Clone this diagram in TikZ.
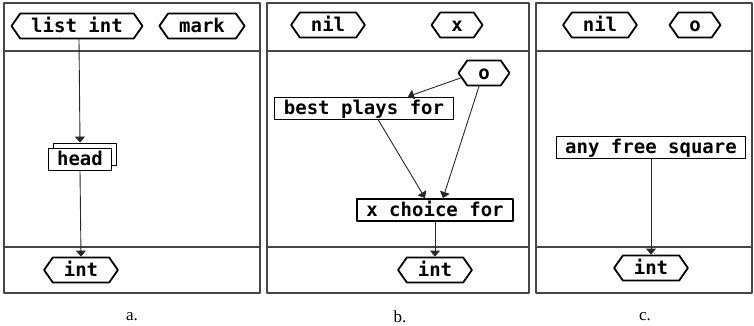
\documentclass[tikz,border=0pt]{standalone}
\usepackage{fontspec}
\setmainfont{Liberation Serif}
\newfontfamily\pixfont{DejaVu Sans Mono}
\usetikzlibrary{arrows.meta}
\usetikzlibrary{calc}
\usetikzlibrary{shapes.symbols}
\usetikzlibrary{shadows}

\begin{document}
\begin{tikzpicture}[x=1pt, y=-1pt, >={Triangle[width=10pt,length=6pt]}, line cap=round, line join=round]

	\definecolor{frameA}{RGB}{70,70,70}
	\definecolor{lineA}{RGB}{40,40,40}

	\tikzset{
		frame/.style={draw=frameA, line width=1.3pt},
		divider/.style={draw=frameA, line width=1.1pt},
		typenode/.style={signal, signal to=west and east, signal pointer angle=110,
			draw=black, line width=1.8pt, fill=white, minimum height=25pt,
			inner xsep=11pt, inner ysep=0pt, font=\pixfont\bfseries\fontsize{19}{20}\selectfont,
			text height=15pt, text depth=2pt},
		opbox/.style={rectangle, draw=black, line width=0.9pt, fill=white, minimum height=22pt,
			inner xsep=9pt, inner ysep=0pt, font=\pixfont\bfseries\fontsize{19}{20}\selectfont,
			text height=15pt, text depth=2pt},
		mainop/.style={opbox, line width=2pt},
		multiop/.style={opbox, copy shadow={shadow xshift=5pt, shadow yshift=5pt, fill=white, draw=black, line width=0.9pt}},
		conn/.style={->, draw=lineA, line width=0.9pt},
		lab/.style={font=\fontsize{17}{19}\selectfont},
	}

	\useasboundingbox (0,0) rectangle (754,326);

	% --- panel frames with header and result strips
	\foreach \xl/\xr in {4/260, 267/529, 536/752} {
		\draw[frame] (\xl,3) rectangle (\xr,293);
		\draw[divider] (\xl,51) -- (\xr,51);
		\draw[divider] (\xl,247) -- (\xr,247);
	}

	% --- a.
	\node[typenode] (listint) at (77,26) {list int};
	\node[typenode] (marka) at (202,26) {mark};
	\node[multiop] (head) at (80,159) {head};
	\node[typenode] (inta) at (81,270) {int};
	\draw[conn] (listint.south -| 79,0) -- ([yshift=5pt]head.north);
	\draw[conn] (head.south) -- (inta.north);
	\node[lab] (capa) at (132,317) {a.};

	% --- b.
	\node[typenode] (nilb) at (328,25) {nil};
	\node[typenode] (xb) at (457,25) {x};
	\node[typenode] (ob) at (484,73) {o};
	\node[opbox] (bestplays) at (364,108) {best plays for};
	\node[mainop] (xchoice) at (435,210) {x choice for};
	\node[typenode] (intb) at (435,270) {int};
	\draw[conn] ($(ob.west)+(3,5)$) -- ([xshift=44pt]bestplays.north);
	\draw[conn] ([xshift=14pt]bestplays.south) -- ([xshift=-10pt]xchoice.north);
	\draw[conn] ([xshift=-5pt]ob.south) -- ([xshift=8pt]xchoice.north);
	\draw[conn] (xchoice.south) -- (intb.north);
	\node[lab] (capb) at (400,317) {b.};

	% --- c.
	\node[typenode] (nilc) at (600,25) {nil};
	\node[typenode] (oc) at (695,25) {o};
	\node[opbox] (anyfree) at (651,147) {any free square};
	\node[typenode] (intc) at (651,268) {int};
	\draw[conn] (anyfree.south) -- (intc.north);
	\node[lab] (capc) at (645,317) {c.};

\end{tikzpicture}
\end{document}
